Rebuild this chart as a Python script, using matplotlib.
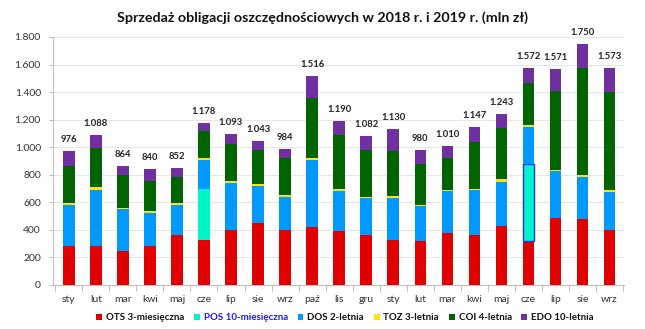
import matplotlib
matplotlib.use("Agg")
import matplotlib.pyplot as plt
from matplotlib.patches import Patch
import numpy as np

plt.rcParams['font.family'] = ['Lato', 'DejaVu Sans']

months = ["sty", "lut", "mar", "kwi", "maj", "cze", "lip", "sie", "wrz", "paź", "lis", "gru",
          "sty", "lut", "mar", "kwi", "maj", "cze", "lip", "sie", "wrz"]
ots = [280, 282, 246, 285, 362, 328, 401, 449, 401, 420, 389, 365,
       326, 321, 379, 360, 425, 318, 488, 476, 401]
pos = [0, 0, 0, 0, 0, 368, 0, 0, 0, 0, 0, 0,
       0, 0, 0, 0, 0, 562, 0, 0, 0]
dos = [302, 409, 302, 236, 218, 213, 341, 273, 241, 489, 290, 265,
       307, 249, 302, 328, 326, 265, 338, 307, 276]
toz = [12, 19, 12, 13, 12, 14, 11, 13, 13, 11, 17, 10,
       12, 12, 12, 12, 17, 17, 10, 14, 11]
coi = [268, 283, 237, 224, 191, 193, 267, 246, 265, 438, 396, 341,
       326, 297, 229, 341, 370, 307, 573, 776, 714]
edo = [114, 95, 67, 82, 69, 62, 73, 62, 64, 158, 98, 101,
       159, 101, 88, 106, 105, 103, 162, 177, 171]
totals = [976, 1088, 864, 840, 852, 1178, 1093, 1043, 984, 1516, 1190, 1082,
          1130, 980, 1010, 1147, 1243, 1572, 1571, 1750, 1573]
series_names = ["OTS 3-miesięczna", "POS 10-miesięczna", "DOS 2-letnia",
                "TOZ 3-letnia", "COI 4-letnia", "EDO 10-letnia"]
yticks = [0, 200, 400, 600, 800, 1000, 1200, 1400, 1600, 1800]
ytick_labels = ["0", "200", "400", "600", "800", "1.000", "1.200", "1.400", "1.600", "1.800"]

colors = ["#E00000", "#00F5C8", "#0099FF", "#FFE010", "#006400", "#7030A0"]
series = [ots, pos, dos, toz, coi, edo]

fig = plt.figure(figsize=(6.45, 3.29), dpi=100)
ax = fig.add_axes([53.3/645, 1 - 285/329, (624 - 53.3)/645, (285 - 37)/329])

x = np.arange(len(months))
w = 0.43
bottom = np.zeros(len(months))
for name, vals, c in zip(series_names, series, colors):
    vals = np.array(vals, dtype=float)
    bars = ax.bar(x, vals, w, bottom=bottom, color=c, label=name, zorder=3)
    if name.startswith("POS"):
        for i, b in enumerate(bars):
            if vals[i] > 0 and i == 17:
                b.set_edgecolor("#2233FF")
                b.set_linewidth(1.0)
    bottom += vals

for i, t in enumerate(totals):
    s = f"{t:,}".replace(",", ".")
    ax.annotate(s, (x[i], t), xytext=(0, 5), textcoords="offset points",
                ha="center", va="bottom", fontsize=6.8, fontweight="bold", color="#222222")

ax.set_ylim(0, 1800)
ax.set_xlim(-0.57, 20.53)
ax.set_yticks(yticks)
ax.set_yticklabels(ytick_labels)
ax.set_xticks(x)
ax.set_xticklabels(months)
ax.set_xticks(np.arange(-0.5, 21, 1), minor=True)
ax.tick_params(axis="x", which="major", length=0, pad=7, labelsize=7.5, labelcolor="#333333")
ax.tick_params(axis="x", which="minor", length=4, color="#bfbfbf", width=0.8)
ax.tick_params(axis="y", length=3, color="#bfbfbf", width=0.8, labelsize=7.5,
               labelcolor="#333333", pad=6)
ax.grid(axis="y", color="#e6e6e6", linewidth=0.8, zorder=0)
ax.set_axisbelow(True)
for s in ["top", "right"]:
    ax.spines[s].set_visible(False)
for s in ["left", "bottom"]:
    ax.spines[s].set_color("#bfbfbf")
    ax.spines[s].set_linewidth(0.8)

fig.text(0.5, 1 - 18/329, "Sprzedaż obligacji oszczędnościowych w 2018 r. i 2019 r. (mln zł)",
         ha="center", va="center", fontsize=10.3, fontweight="bold", color="#111111")

handles = [Patch(facecolor=c, edgecolor="none") for c in colors]
leg = fig.legend(handles, series_names, loc="center", bbox_to_anchor=(345/645, 1 - 318/329),
                 ncol=6, frameon=False, handlelength=0.6, handleheight=0.6,
                 handletextpad=0.4, columnspacing=1.0, prop={"weight": "bold", "size": 7})
for i, txt in enumerate(leg.get_texts()):
    txt.set_fontweight("bold")
    txt.set_color("#1a1aff" if i == 1 else "#111111")

fig.savefig("out.png", dpi=100)
